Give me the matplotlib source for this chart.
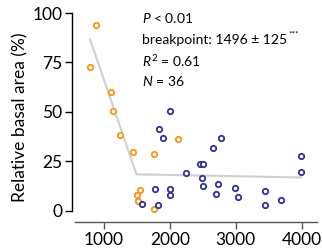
import matplotlib
matplotlib.use("Agg")
import matplotlib.pyplot as plt

plt.rcParams['font.family'] = ['Lato', 'DejaVu Sans']
plt.rcParams['mathtext.fontset'] = 'custom'
plt.rcParams['mathtext.rm'] = 'Lato'
plt.rcParams['mathtext.it'] = 'Lato:italic'

orange_x = [880, 793, 1105, 1136, 1252, 1448, 1553, 1498, 1518, 1765, 1765, 2127]
orange_y = [94.1, 72.9, 60.3, 50.5, 38.2, 29.8, 10.6, 8.2, 5.1, 28.6, 1.0, 36.2]

blue_x = [1830, 1900, 2000, 1784, 2000, 2000, 1573, 1820, 2775, 2650, 2452, 2503,
          2247, 2493, 2498, 2738, 2693, 2990, 3036, 3440, 3440, 3685, 3987, 3987]
blue_y = [41.3, 37.0, 50.5, 11.1, 11.2, 8.0, 3.5, 2.9, 36.7, 32.0, 23.9, 23.6,
          19.2, 16.8, 12.6, 13.5, 8.6, 11.5, 6.9, 10.1, 2.9, 5.4, 27.8, 19.5]

fit_x = [793, 1496, 3987]
fit_y = [86.7, 18.5, 16.9]

x_ticks = [1000, 2000, 3000, 4000]
y_ticks = [0, 25, 50, 75, 100]

fig = plt.figure(figsize=(3.22, 2.49), dpi=100)
ax = fig.add_axes([72/322, 1-222/249, (317-72)/322, (222-13)/249])

ax.plot(fit_x, fit_y, color='#cfcfcf', lw=1.5, zorder=1)
ax.scatter(orange_x, orange_y, s=15, facecolors='white', edgecolors='#f7941d',
           linewidths=1.3, zorder=3, clip_on=False)
ax.scatter(blue_x, blue_y, s=15, facecolors='white', edgecolors='#2e3192',
           linewidths=1.3, zorder=3, clip_on=False)

ax.set_xlim(520, 4230)
ax.set_ylim(-5.6, 100)
ax.set_xticks(x_ticks)
ax.set_yticks(y_ticks)
ax.spines['top'].set_visible(False)
ax.spines['right'].set_visible(False)
ax.spines['left'].set_bounds(0, 100)
ax.spines['bottom'].set_bounds(560, 4230)
ax.spines['bottom'].set_color('#555555')
ax.spines['left'].set_linewidth(1.0)
ax.spines['bottom'].set_linewidth(1.0)
ax.tick_params(axis='both', direction='out', length=5, width=1, labelsize=12.5, pad=2)
ax.tick_params(axis='x', color='#555555')
ax.set_ylabel('Relative basal area (%)', fontsize=12.5, labelpad=3)

tx = 142
def fx(px):
    return px / 322
def fy(py):
    return 1 - py / 249
fs = 10
fig.text(fx(tx), fy(18), r'$\mathit{P}$ < 0.01', fontsize=fs, va='center')
bp = fig.text(fx(tx), fy(40), 'breakpoint: 1496 ± 125', fontsize=fs, va='center')
fig.text(fx(tx), fy(61), r'$\mathit{R}^{2}$ = 0.61', fontsize=fs, va='center')
fig.text(fx(tx), fy(81), r'$\mathit{N}$ = 36', fontsize=fs, va='center')

fig.canvas.draw()
bb = bp.get_window_extent(renderer=fig.canvas.get_renderer())
fig.text(bb.x1 / fig.bbox.width + 1/322, fy(34), '***', fontsize=6, va='center')

fig.savefig('out.png', dpi=100)
